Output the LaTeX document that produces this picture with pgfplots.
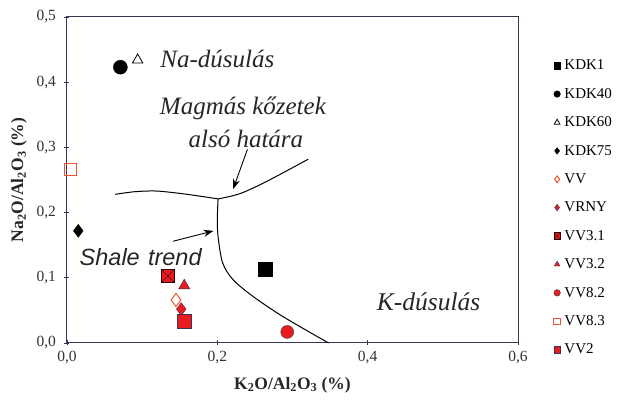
\documentclass[border=0pt]{standalone}
\usepackage{pgfplots}
\pgfplotsset{compat=1.18}
\usepackage{fontspec}
\setmainfont{Liberation Serif}
\newfontfamily\sansit{Liberation Sans}
\usetikzlibrary{arrows.meta}
\definecolor{axcol}{RGB}{60,50,85}
\definecolor{vred}{RGB}{232,28,30}
\definecolor{vorange}{RGB}{242,80,50}
\pgfdeclareplotmark{sqx}{%
  \pgfpathrectangle{\pgfpoint{-\pgfplotmarksize}{-\pgfplotmarksize}}{\pgfpoint{2\pgfplotmarksize}{2\pgfplotmarksize}}%
  \pgfusepathqfillstroke
  \pgfpathmoveto{\pgfpoint{-\pgfplotmarksize}{-\pgfplotmarksize}}\pgfpathlineto{\pgfpoint{\pgfplotmarksize}{\pgfplotmarksize}}%
  \pgfpathmoveto{\pgfpoint{-\pgfplotmarksize}{\pgfplotmarksize}}\pgfpathlineto{\pgfpoint{\pgfplotmarksize}{-\pgfplotmarksize}}%
  \pgfusepathqstroke
}
\begin{document}
\begin{tikzpicture}
\begin{axis}[
  scale only axis,
  width=451pt, height=326pt,
  xmin=0, xmax=0.6, ymin=0, ymax=0.5,
  xtick={0,0.2,0.4,0.6}, ytick={0,0.1,0.2,0.3,0.4,0.5},
  axis line style={axcol, line width=1pt},
  tick style={axcol, line width=0.8pt},
  tick align=center, major tick length=5pt,
  xtick pos=bottom, ytick pos=left,
  /pgf/number format/.cd, use comma, fixed, fixed zerofill, precision=1, assume math mode=true,
  /pgfplots/.cd,
  ticklabel style={font=\rmfamily\fontsize{15.5}{17}\selectfont, text=black!80},
  yticklabel style={xshift=-5pt},
  xticklabel style={yshift=-2pt},
  xlabel={\textbf{K\textsubscript{2}O/Al\textsubscript{2}O\textsubscript{3} (\%)}},
  ylabel={\textbf{Na\textsubscript{2}O/Al\textsubscript{2}O\textsubscript{3} (\%)}},
  label style={font=\rmfamily\fontsize{17.5}{19}\selectfont, text=black!85},
  xlabel style={at={(axis description cs:0.5,-0.129)}, anchor=center},
  ylabel style={at={(axis description cs:-0.1064,0.5)}, anchor=center},
  legend cell align=left,
  legend style={draw=none, fill=none, at={(1.079,0.872)}, anchor=north west,
    font=\rmfamily\fontsize{15}{17}\selectfont, row sep=15pt, column sep=3pt, inner sep=0pt,
    nodes={inner sep=1pt}},
  legend image code/.code={\draw[#1, mark size=3.3pt] plot coordinates {(0.12cm,0cm)};},
  clip=false,
]
\addplot[only marks, mark=square*, mark size=7pt, black] coordinates {(0.264,0.113)};
\addlegendentry{KDK1}
\addplot[only marks, mark=*, mark size=7pt, black] coordinates {(0.071,0.423)};
\addlegendentry{KDK40}
\addplot[only marks, mark=triangle, mark size=6pt, black, thick] coordinates {(0.094,0.434)};
\addlegendentry{KDK60}
\addplot[only marks, mark=diamond*, mark size=6.5pt, black] coordinates {(0.015,0.172)};
\addlegendentry{KDK75}
\addplot[only marks, mark=diamond, mark size=6.5pt, vorange, line width=1pt, mark options={fill=white}] coordinates {(0.145,0.066)};
\addlegendentry{VV}
\addplot[only marks, mark=diamond*, mark size=6.5pt, draw=axcol, fill=vred] coordinates {(0.152,0.052)};
\addlegendentry{VRNY}
\addplot[only marks, mark=sqx, mark size=6.5pt, draw=black!80!vred, fill=vred] coordinates {(0.134,0.103)};
\addlegendentry{VV3.1}
\addplot[only marks, mark=triangle*, mark size=6.5pt, draw=axcol, fill=vred] coordinates {(0.156,0.088)};
\addlegendentry{VV3.2}
\addplot[only marks, mark=*, mark size=6.5pt, draw=axcol, fill=vred] coordinates {(0.293,0.017)};
\addlegendentry{VV8.2}
\addplot[only marks, mark=square, mark size=6pt, vorange, line width=1pt, mark options={fill=white}] coordinates {(0.005,0.266)};
\addlegendentry{VV8.3}
\addplot[only marks, mark=square*, mark size=7pt, draw=axcol, fill=vred] coordinates {(0.156,0.034)};
\addlegendentry{VV2}
% boundary curves
\addplot[black, line width=1pt, smooth, forget plot] coordinates {(0.064,0.228) (0.09,0.232) (0.12,0.233) (0.16,0.228) (0.201,0.221)};
\addplot[black, line width=1pt, smooth, forget plot] coordinates {(0.201,0.221) (0.23,0.229) (0.266,0.248) (0.321,0.282)};
\addplot[black, line width=1pt, smooth, forget plot] coordinates {(0.201,0.221) (0.200,0.19) (0.201,0.163) (0.207,0.123) (0.221,0.097) (0.248,0.071) (0.288,0.040) (0.348,0.0)};
% arrows
\draw[-{Stealth[length=10pt,width=7pt]}, line width=0.9pt] (axis cs:0.240,0.297) -- (axis cs:0.221,0.236);
\draw[-{Stealth[length=10pt,width=7pt]}, line width=0.9pt] (axis cs:0.141,0.156) -- (axis cs:0.195,0.172);
% annotations
\node[font=\rmfamily\itshape\fontsize{25}{27}\selectfont, text=black!85] at (axis cs:0.2,0.436) {Na-dúsulás};
\node[font=\rmfamily\itshape\fontsize{25}{27}\selectfont, text=black!85] at (axis cs:0.234,0.360) {Magmás kőzetek};
\node[font=\rmfamily\itshape\fontsize{25}{27}\selectfont, text=black!85] at (axis cs:0.238,0.313) {alsó határa};
\node[text=black!85] at (axis cs:0.098,0.132) {{\sansit\itshape\fontsize{23.5}{25}\selectfont Shale\hspace{0.35em}trend}};
\node[font=\rmfamily\itshape\fontsize{25.5}{27}\selectfont, text=black!85] at (axis cs:0.481,0.063) {K-dúsulás};
% picture extent
\path (axis description cs:0,0) ++(-67pt,-57pt);
\path (axis description cs:1,1) ++(103pt,17pt);
\end{axis}
\end{tikzpicture}
\end{document}
